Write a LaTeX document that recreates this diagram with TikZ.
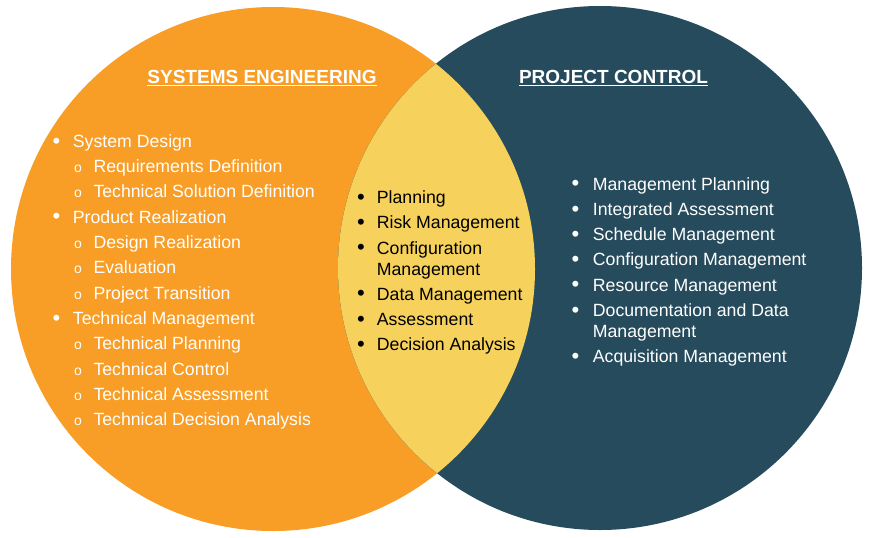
\documentclass[tikz,border=0pt]{standalone}
\usepackage{fontspec}
\setmainfont{Liberation Sans}
\definecolor{seorange}{HTML}{F89D25}
\definecolor{pcblue}{HTML}{264B5D}
\definecolor{lensyellow}{HTML}{F6D25C}
\tikzset{
  itemtxt/.style={anchor=base west, inner sep=0pt, align=left, font=\fontsize{17.7}{21}\selectfont},
  mainbul/.style={anchor=base, inner sep=0pt, font=\fontsize{22}{24}\selectfont},
  subbul/.style={anchor=base, inner sep=0pt, font=\fontsize{14}{16}\selectfont},
  headtxt/.style={anchor=base, inner sep=0pt, text=white, font=\fontsize{19}{22}\selectfont\bfseries},
  headline/.style={draw=white, line width=1.4pt}
}
\begin{document}
\begin{tikzpicture}[x=1pt,y=-1pt]
\useasboundingbox (0,0) rectangle (870,538);
\fill[white] (0,0) rectangle (870,538);
% circles
\fill[seorange] (273,269) circle[radius=262pt];
\fill[pcblue] (600,268) circle[radius=262pt];
\begin{scope}
  \clip (273,269) circle[radius=262pt];
  \fill[lensyellow] (600,268) circle[radius=262pt];
\end{scope}
% headings
\node[headtxt] (seh) at (262,83) {SYSTEMS ENGINEERING};
\draw[headline] ([yshift=-2.4pt]seh.base west) -- ([yshift=-2.4pt]seh.base east);
\node[headtxt] (pch) at (613.5,83.3) {PROJECT CONTROL};
\draw[headline] ([yshift=-2.4pt]pch.base west) -- ([yshift=-2.4pt]pch.base east);
% left list
\begin{scope}[every node/.append style={text=white}]
\node[mainbul] (lb1) at (56.5,148) {•};
\node[itemtxt] (l1) at (72.7,147.3) {System Design};
\node[subbul] (lb2) at (78,172.6) {o};
\node[itemtxt] (l2) at (93.3,172.6) {Requirements Definition};
\node[subbul] (lb3) at (78,197.9) {o};
\node[itemtxt] (l3) at (93.3,197.9) {Technical Solution Definition};
\node[mainbul] (lb4) at (56.5,223.9) {•};
\node[itemtxt] (l4) at (72.7,223.2) {Product Realization};
\node[subbul] (lb5) at (78,248.5) {o};
\node[itemtxt] (l5) at (93.3,248.5) {Design Realization};
\node[subbul] (lb6) at (78,273.8) {o};
\node[itemtxt] (l6) at (93.3,273.8) {Evaluation};
\node[subbul] (lb7) at (78,299.1) {o};
\node[itemtxt] (l7) at (93.3,299.1) {Project Transition};
\node[mainbul] (lb8) at (56.5,325.1) {•};
\node[itemtxt] (l8) at (72.7,324.4) {Technical Management};
\node[subbul] (lb9) at (78,349.7) {o};
\node[itemtxt] (l9) at (93.3,349.7) {Technical Planning};
\node[subbul] (lb10) at (78,375) {o};
\node[itemtxt] (l10) at (93.3,375) {Technical Control};
\node[subbul] (lb11) at (78,400.3) {o};
\node[itemtxt] (l11) at (93.3,400.3) {Technical Assessment};
\node[subbul] (lb12) at (78,425.6) {o};
\node[itemtxt] (l12) at (93.3,425.6) {Technical Decision Analysis};
\end{scope}
% middle list
\begin{scope}[every node/.append style={text=black}]
\node[mainbul] (mb1) at (361,204) {•};
\node[itemtxt] (m1) at (376.7,203.3) {Planning};
\node[mainbul] (mb2) at (361,229.2) {•};
\node[itemtxt] (m2) at (376.7,228.5) {Risk Management};
\node[mainbul] (mb3) at (361,254.7) {•};
\node[itemtxt] (m3) at (376.7,275) {Configuration\\Management};
\node[mainbul] (mb4) at (361,300.7) {•};
\node[itemtxt] (m4) at (376.7,300) {Data Management};
\node[mainbul] (mb5) at (361,326) {•};
\node[itemtxt] (m5) at (376.7,325.3) {Assessment};
\node[mainbul] (mb6) at (361,351.3) {•};
\node[itemtxt] (m6) at (376.7,350.6) {Decision Analysis};
\end{scope}
% right list
\begin{scope}[every node/.append style={text=white}]
\node[mainbul] (rb1) at (575.5,190.7) {•};
\node[itemtxt] (r1) at (592.7,190) {Management Planning};
\node[mainbul] (rb2) at (575.5,216) {•};
\node[itemtxt] (r2) at (592.7,215.3) {Integrated Assessment};
\node[mainbul] (rb3) at (575.5,241.3) {•};
\node[itemtxt] (r3) at (592.7,240.6) {Schedule Management};
\node[mainbul] (rb4) at (575.5,266.6) {•};
\node[itemtxt] (r4) at (592.7,265.9) {Configuration Management};
\node[mainbul] (rb5) at (575.5,291.9) {•};
\node[itemtxt] (r5) at (592.7,291.2) {Resource Management};
\node[mainbul] (rb6) at (575.5,317.2) {•};
\node[itemtxt] (r6) at (592.7,337.3) {Documentation and Data\\Management};
\node[mainbul] (rb7) at (575.5,363.2) {•};
\node[itemtxt] (r7) at (592.7,362.5) {Acquisition Management};
\end{scope}
\end{tikzpicture}
\end{document}
